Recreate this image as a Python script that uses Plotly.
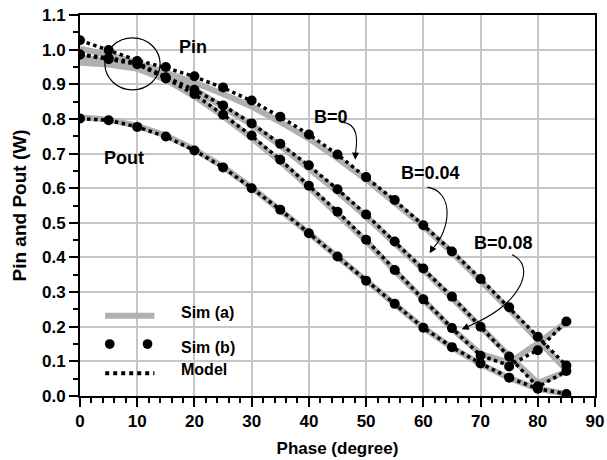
import plotly.graph_objects as go

# Phase sweep (degrees)
phase = [0, 5, 10, 15, 20, 25, 30, 35, 40, 45, 50, 55, 60, 65, 70, 75, 80, 85]

# Input power, B = 0
pin_b0_sim_a = [1.003, 0.985, 0.962, 0.935, 0.905, 0.872, 0.836, 0.791, 0.743, 0.686,
                0.625, 0.558, 0.490, 0.415, 0.335, 0.250, 0.162, 0.075]
pin_b0_sim_b = [1.027, 0.999, 0.967, 0.950, 0.923, 0.891, 0.853, 0.806, 0.755, 0.697,
                0.632, 0.566, 0.493, 0.417, 0.338, 0.256, 0.171, 0.088]
pin_b0_model = [1.027, 0.999, 0.969, 0.948, 0.922, 0.890, 0.852, 0.806, 0.755, 0.697,
                0.632, 0.565, 0.493, 0.418, 0.338, 0.256, 0.171, 0.088]

# Input power, B = 0.04
pin_b004_sim_a = [0.978, 0.968, 0.952, 0.925, 0.885, 0.836, 0.783, 0.723, 0.659, 0.590,
                  0.518, 0.442, 0.364, 0.283, 0.198, 0.116, 0.038, 0.070]
pin_b004_sim_b = [0.986, 0.976, 0.962, 0.920, 0.884, 0.839, 0.787, 0.728, 0.666, 0.597,
                  0.524, 0.446, 0.368, 0.287, 0.200, 0.114, 0.028, 0.072]
pin_b004_model = [0.986, 0.976, 0.962, 0.921, 0.884, 0.839, 0.787, 0.728, 0.665, 0.597,
                  0.524, 0.446, 0.368, 0.287, 0.200, 0.114, 0.026, 0.072]

# Input power, B = 0.08
pin_b008_sim_a = [0.962, 0.957, 0.945, 0.913, 0.865, 0.808, 0.745, 0.677, 0.603, 0.527,
                  0.447, 0.362, 0.276, 0.194, 0.122, 0.096, 0.152, 0.213]
pin_b008_sim_b = [0.986, 0.972, 0.958, 0.917, 0.872, 0.812, 0.752, 0.682, 0.607, 0.532,
                  0.451, 0.364, 0.279, 0.196, 0.116, 0.085, 0.132, 0.215]
pin_b008_model = [0.986, 0.972, 0.958, 0.917, 0.871, 0.812, 0.751, 0.682, 0.607, 0.532,
                  0.451, 0.364, 0.279, 0.196, 0.117, 0.088, 0.133, 0.215]

# Output power
pout_sim_a = [0.805, 0.798, 0.780, 0.752, 0.712, 0.662, 0.602, 0.538, 0.470, 0.402,
              0.332, 0.264, 0.197, 0.140, 0.092, 0.052, 0.021, 0.006]
pout_sim_b = [0.801, 0.796, 0.777, 0.749, 0.709, 0.660, 0.600, 0.538, 0.470, 0.403,
              0.333, 0.266, 0.197, 0.141, 0.094, 0.053, 0.021, 0.006]
pout_model = [0.801, 0.796, 0.777, 0.749, 0.709, 0.660, 0.600, 0.538, 0.470, 0.403,
              0.333, 0.266, 0.197, 0.141, 0.094, 0.053, 0.021, 0.006]

x_ticks = [0, 10, 20, 30, 40, 50, 60, 70, 80, 90]
y_ticks = [0.0, 0.1, 0.2, 0.3, 0.4, 0.5, 0.6, 0.7, 0.8, 0.9, 1.0, 1.1]

GRAY = "#b0b0b0"
FONT = "Liberation Sans, Arial, sans-serif"

sim_a = [pin_b0_sim_a, pin_b004_sim_a, pin_b008_sim_a, pout_sim_a]
sim_b = [pin_b0_sim_b, pin_b004_sim_b, pin_b008_sim_b, pout_sim_b]
model = [pin_b0_model, pin_b004_model, pin_b008_model, pout_model]

fig = go.Figure()
for ys in sim_a:
    fig.add_trace(go.Scatter(x=phase, y=ys, mode="lines",
                             line=dict(color=GRAY, width=6), showlegend=False,
                             hoverinfo="skip"))
for ys in model:
    fig.add_trace(go.Scatter(x=phase, y=ys, mode="lines",
                             line=dict(color="black", width=3.5, dash="dot"),
                             showlegend=False, hoverinfo="skip"))
for ys in sim_b:
    fig.add_trace(go.Scatter(x=phase, y=ys, mode="markers",
                             marker=dict(color="black", size=10), showlegend=False,
                             hoverinfo="skip"))

shapes = []
annotations = []

# Legend keys drawn inside the plot area
shapes.append(dict(type="line", xref="x", yref="y", x0=4.4, x1=13.0, y0=0.232, y1=0.232,
                   line=dict(color=GRAY, width=6)))
for cx in (5.2, 11.8):
    shapes.append(dict(type="circle", xref="x", yref="y", fillcolor="black",
                       line=dict(color="black", width=0),
                       x0=cx - 0.85, x1=cx + 0.85, y0=0.150 - 0.014, y1=0.150 + 0.014))
shapes.append(dict(type="line", xref="x", yref="y", x0=4.4, x1=13.0, y0=0.066, y1=0.066,
                   line=dict(color="black", width=4, dash="dot")))
for label, yy in (("Sim (a)", 0.240), ("Sim (b)", 0.140), ("Model", 0.077)):
    annotations.append(dict(x=17.3, y=yy, xref="x", yref="y", text=label, showarrow=False,
                            xanchor="left", yanchor="middle",
                            font=dict(size=16, family=FONT, color="black", weight="bold")))

# Circle marking the convergence of the input-power curves
shapes.append(dict(type="circle", xref="x", yref="y", x0=4.35, x1=14.0, y0=0.884, y1=1.034,
                   line=dict(color="black", width=1.2)))

# Curved pointers to each B curve
curves = [
    ("M 46.0,0.790 C 48.6,0.785 48.5,0.74 48.15,0.700", (48.1, 0.682), (48.15, 0.705)),
    ("M 60.7,0.603 C 65.5,0.590 64.8,0.480 61.6,0.425", (61.1, 0.412), (61.7, 0.428)),
    ("M 75.5,0.408 C 79.5,0.380 78.0,0.270 67.4,0.198", (66.7, 0.193), (67.6, 0.199)),
]
for path, tip, tail in curves:
    shapes.append(dict(type="path", xref="x", yref="y", path=path,
                       line=dict(color="black", width=1.1)))
    annotations.append(dict(x=tip[0], y=tip[1], ax=tail[0], ay=tail[1], xref="x", yref="y",
                            axref="x", ayref="y", text="", showarrow=True, arrowhead=2,
                            arrowsize=1.3, arrowwidth=1.1, arrowcolor="black", standoff=0))

for label, xx, yy in (("Pin", 19.8, 1.009), ("Pout", 7.7, 0.688), ("B=0", 43.8, 0.806),
                      ("B=0.04", 61.2, 0.644), ("B=0.08", 74.0, 0.441)):
    annotations.append(dict(x=xx, y=yy, xref="x", yref="y", text=label, showarrow=False,
                            xanchor="center", yanchor="middle",
                            font=dict(size=18, family=FONT, color="black", weight="bold")))

axis_common = dict(
    showline=True, linecolor="black", linewidth=2, mirror=True,
    ticks="outside", ticklen=9, tickwidth=2, tickcolor="black",
    showgrid=True, gridcolor="#c6c6c6", gridwidth=1.5, zeroline=False,
    automargin=False,
    tickfont=dict(size=17, family=FONT, color="black", weight="bold"),
)

fig.update_layout(
    width=607, height=460,
    margin=dict(l=80, r=12, t=15, b=64),
    paper_bgcolor="white", plot_bgcolor="white",
    font=dict(family=FONT, color="black"),
    showlegend=False,
    shapes=shapes,
    annotations=annotations,
    xaxis=dict(range=[0, 90], tickvals=x_ticks,
               minor=dict(dtick=2, ticks="outside", ticklen=5, tickwidth=1.5,
                          tickcolor="black", showgrid=False),
               title=dict(text="Phase (degree)", standoff=12,
                          font=dict(size=17, family=FONT, color="black", weight="bold")),
               **axis_common),
    yaxis=dict(range=[0, 1.1], tickvals=y_ticks, tickformat=".1f",
               minor=dict(dtick=0.05, ticks="outside", ticklen=5, tickwidth=1.5,
                          tickcolor="black", showgrid=False),
               title=dict(text="Pin and Pout (W)", standoff=10,
                          font=dict(size=19, family=FONT, color="black", weight="bold")),
               **axis_common),
)

fig.write_html("out.html")
